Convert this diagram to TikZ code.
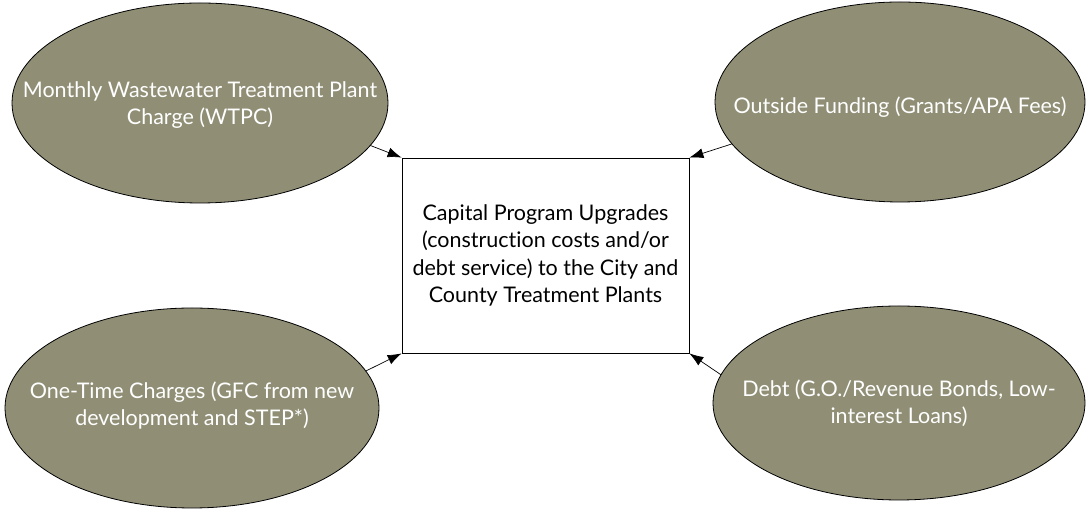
\documentclass[tikz,border=0pt]{standalone}
\usepackage{fontspec}
\setmainfont{Lato}[Ligatures=NoCommon]
\usetikzlibrary{shapes.geometric,arrows.meta}
\definecolor{olivefill}{RGB}{144,143,118}
\begin{document}
\begin{tikzpicture}[x=1pt,y=1pt,
  source/.style={ellipse,draw=black,line width=0.8pt,fill=olivefill,
    inner sep=0pt,outer sep=0pt},
  caption/.style={text=white,align=center,
    font=\fontsize{21.5}{27}\selectfont},
  target/.style={rectangle,draw=black,line width=0.8pt,fill=white,
    inner sep=0pt,minimum width=287pt,minimum height=195pt,align=center,
    font=\fontsize{21.5}{27.5}\selectfont},
  feed/.style={-{Latex[length=14pt,width=10pt]},line width=0.7pt}]
\useasboundingbox (0,0) rectangle (1086,510);

% central recipient box
\node[target] (box) at (545.5,254.5)
  {Capital Program Upgrades\\(construction costs and/or\\debt service) to the City and\\County Treatment Plants};

% funding sources
\node[source, minimum height=200pt, minimum width=376pt] (tl) at (200,407) {};
\node[caption] (tltext) at (200,405)
  {Monthly Wastewater Treatment Plant\\Charge (WTPC)};

\node[source, minimum height=200pt, minimum width=370pt] (tr) at (900,408) {};
\node[caption] (trtext) at (900,403) {Outside Funding (Grants/APA Fees)};

\node[source, minimum height=200pt, minimum width=374pt] (bl) at (192,102) {};
\node[caption] (bltext) at (192,104)
  {One-Time Charges (GFC from new\\development and STEP*)};

\node[source, minimum height=194pt, minimum width=372pt] (br) at (899,107) {};
\node[caption] (brtext) at (899,107)
  {Debt (G.O./Revenue Bonds, Low-\\interest Loans)};

% flows into the capital program
\draw[feed] (tl.-14) -- (box.north west);
\draw[feed] (tr.194) -- (box.north east);
\draw[feed] (bl.12) -- (box.south west);
\draw[feed] (br.171) -- (box.south east);
\end{tikzpicture}
\end{document}
